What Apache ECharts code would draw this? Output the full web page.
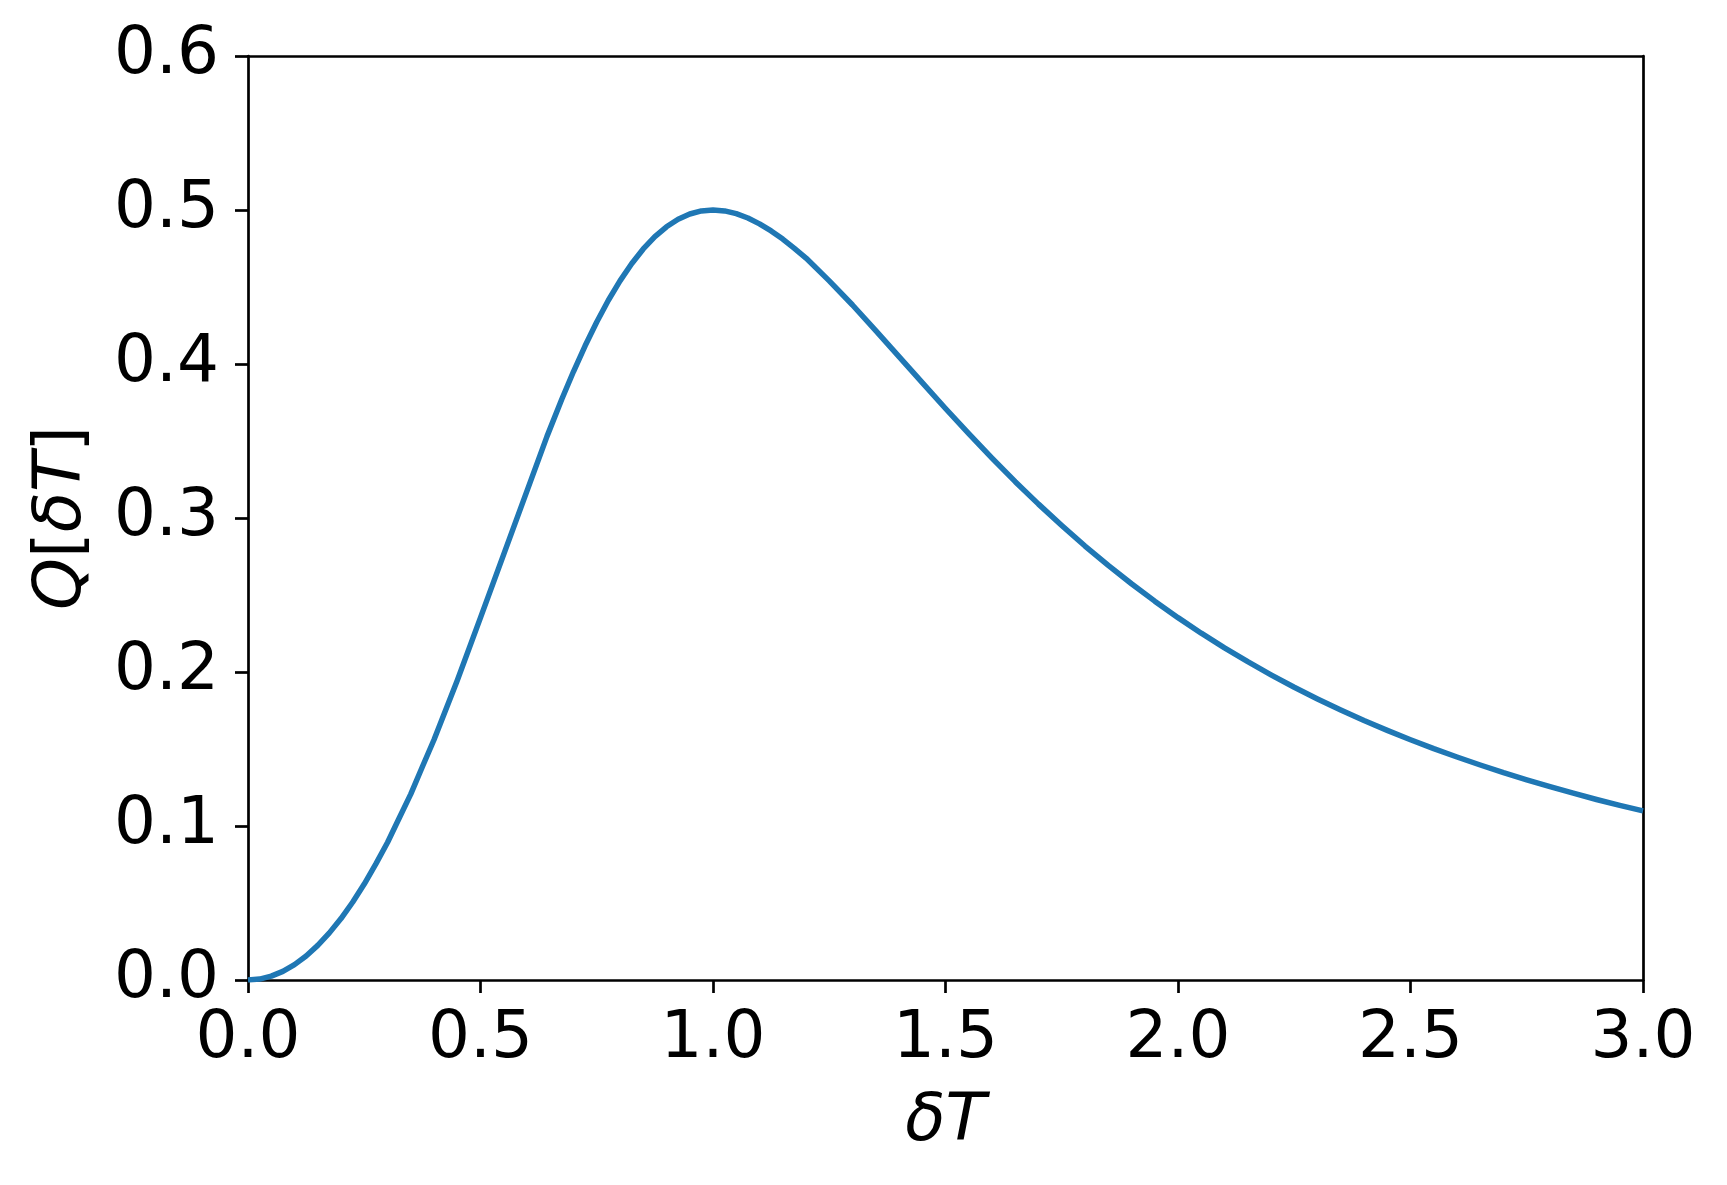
<!DOCTYPE html>
<html>
<head>
<meta charset="utf-8">
<script src="https://cdn.jsdelivr.net/npm/echarts@6/dist/echarts.min.js"></script>
<style>html,body{margin:0;padding:0;background:#fff}#c{width:1727px;height:1185px}</style>
</head>
<body>
<div id="c"></div>
<script>
const xValues = [0, 0.025, 0.05, 0.075, 0.1, 0.125, 0.15, 0.175, 0.2, 0.225, 0.25, 0.275, 0.3, 0.325, 0.35, 0.375, 0.4, 0.45, 0.5,
  0.643, 0.675, 0.7, 0.725, 0.75, 0.775, 0.8, 0.825, 0.85, 0.875, 0.9, 0.925, 0.95, 0.975, 1.0,
  1.025, 1.05, 1.075, 1.1, 1.125, 1.15, 1.175, 1.2, 1.25, 1.3, 1.35, 1.4, 1.45, 1.5, 1.55,
  1.6, 1.65, 1.7, 1.75, 1.8, 1.85, 1.9, 1.95, 2.0, 2.05, 2.1, 2.15, 2.2, 2.25, 2.3, 2.35, 2.4, 2.45,
  2.5, 2.55, 2.6, 2.65, 2.7, 2.75, 2.8, 2.85, 2.9, 2.95, 3.0];
const qValues = [0, 0.0006, 0.0025, 0.0056, 0.010, 0.0156, 0.0225, 0.0306, 0.0399, 0.0505, 0.0623, 0.0754, 0.0893, 0.105, 0.1207, 0.1385, 0.156, 0.1945, 0.2353,
  0.353, 0.3773, 0.3951, 0.4118, 0.4273, 0.4414, 0.454, 0.4651, 0.4747, 0.4827, 0.4891, 0.494, 0.4974, 0.4994, 0.5,
  0.4994, 0.4976, 0.4948, 0.491, 0.4864, 0.4811, 0.4751, 0.4688, 0.454, 0.4383, 0.4217, 0.4048, 0.3879, 0.3711, 0.3548,
  0.3389, 0.3236, 0.309, 0.2951, 0.2818, 0.2692, 0.2573, 0.246, 0.2353, 0.2252, 0.2157, 0.2067, 0.1982, 0.1901, 0.1825, 0.1753, 0.1685, 0.1621,
  0.156, 0.1502, 0.1448, 0.1396, 0.1346, 0.13, 0.1255, 0.1213, 0.1172, 0.1134, 0.1098];
const xTicks = [0, 0.5, 1.0, 1.5, 2.0, 2.5, 3.0];
const yTicks = [0, 0.1, 0.2, 0.3, 0.4, 0.5, 0.6];

const FONT = 'DejaVu Sans';
const lineW = 2.7;
const data = xValues.map((x, i) => [x, qValues[i]]);

const chart = echarts.init(document.getElementById('c'), null, {renderer: 'canvas'});
chart.setOption({
  animation: false,
  backgroundColor: '#ffffff',
  grid: {left: 248, right: 84, top: 56, bottom: 205, containLabel: false},
  xAxis: [{
    type: 'value', min: xTicks[0], max: xTicks[xTicks.length - 1], interval: 0.5,
    position: 'bottom',
    name: 'δT', nameLocation: 'middle', nameGap: 110,
    nameTextStyle: {fontFamily: FONT, fontSize: 66, fontStyle: 'italic', color: '#000'},
    axisLine: {show: true, onZero: false, lineStyle: {color: '#000', width: lineW}},
    axisTick: {show: true, inside: false, length: 13, lineStyle: {color: '#000', width: lineW}},
    axisLabel: {show: true, margin: 27, fontFamily: FONT, fontSize: 66, color: '#000',
      formatter: v => v.toFixed(1)},
    splitLine: {show: false}
  }, {
    type: 'value', min: 0, max: 3, position: 'top',
    axisLine: {show: true, onZero: false, lineStyle: {color: '#000', width: lineW}},
    axisTick: {show: false}, axisLabel: {show: false}, splitLine: {show: false}
  }],
  yAxis: [{
    type: 'value', min: yTicks[0], max: yTicks[yTicks.length - 1], interval: 0.1,
    position: 'left',
    name: '{i|Q}[{i|δT}]', nameLocation: 'middle', nameGap: 152, nameRotate: 90,
    nameTextStyle: {fontFamily: FONT, fontSize: 66, color: '#000',
      rich: {i: {fontFamily: FONT, fontSize: 66, fontStyle: 'italic', color: '#000'}}},
    axisLine: {show: true, onZero: false, lineStyle: {color: '#000', width: lineW}},
    axisTick: {show: true, inside: false, length: 13, lineStyle: {color: '#000', width: lineW}},
    axisLabel: {show: true, margin: 29, fontFamily: FONT, fontSize: 66, color: '#000',
      formatter: v => v.toFixed(1)},
    splitLine: {show: false}
  }, {
    type: 'value', min: 0, max: 0.6, position: 'right',
    axisLine: {show: true, onZero: false, lineStyle: {color: '#000', width: lineW}},
    axisTick: {show: false}, axisLabel: {show: false}, splitLine: {show: false}
  }],
  series: [{
    type: 'line', xAxisIndex: 0, yAxisIndex: 0,
    data: data, showSymbol: false, smooth: false, clip: true,
    lineStyle: {color: '#1f77b4', width: 5.5, join: 'round', cap: 'butt'}
  }]
});
</script>
</body>
</html>
